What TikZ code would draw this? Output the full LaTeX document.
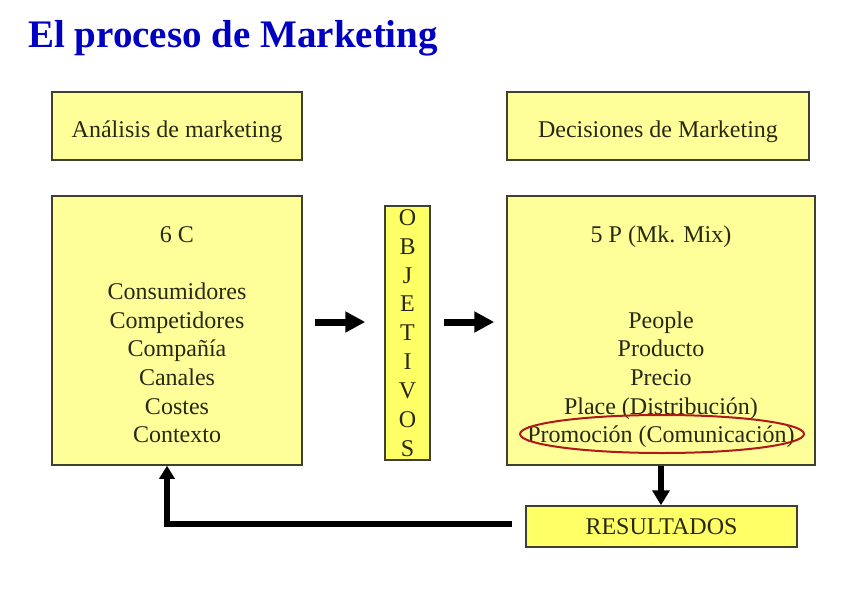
\documentclass[tikz,border=0pt]{standalone}
\usepackage{fontspec}
\setmainfont{Liberation Serif}
\usetikzlibrary{arrows.meta,shapes.geometric,positioning}

\definecolor{paleyel}{RGB}{255,255,153}
\definecolor{strongyel}{RGB}{255,255,102}
\definecolor{boxline}{RGB}{64,64,48}
\definecolor{boxtext}{RGB}{40,40,20}
\definecolor{titleblue}{RGB}{0,0,195}
\definecolor{ringred}{RGB}{175,25,25}

\newcommand{\tophold}{\rule{0pt}{30pt}}
\newcommand{\bothold}{\rule[-6pt]{0pt}{6pt}}

\tikzset{
	box/.style={draw=boxline, line width=1.5pt, fill=paleyel, text=boxtext, align=center,
		font=\fontsize{24}{28.6}\selectfont},
	bigarrow/.style={line width=7pt, -{Triangle[length=20pt,width=20pt]}},
	downarrow/.style={line width=6pt, -{Triangle[length=15pt,width=17pt]}},
	backarrow/.style={line width=6pt, -{Triangle[length=13pt,width=15pt]}}
}

\begin{document}
\begin{tikzpicture}[x=1pt,y=-1pt]
	\useasboundingbox (0,0) rectangle (848,599);
	\node[anchor=base west, text=titleblue, font=\fontsize{39}{44}\selectfont\bfseries, inner sep=0pt] (title) at (28,48) {El proceso de Marketing};
	\node[box, minimum width=250pt, minimum height=68pt] (ana) at (177,126) {\tophold Análisis de marketing\bothold};
	\node[box, minimum width=302pt, minimum height=68pt] (dec) at (658,126) {\tophold Decisiones de Marketing\bothold};
	\node[box, minimum width=250pt, minimum height=269pt] (seis) at (177,330.5) {\tophold 6 C\\[28.6pt]Consumidores\\Competidores\\Compañía\\Canales\\Costes\\Contexto\bothold};
	\node[box, fill=strongyel, minimum width=45pt, minimum height=254pt, inner sep=2pt,
		font=\fontsize{24}{28.9}\selectfont] (obj) at (407.5,333) {O\\B\\J\\E\\T\\I\\V\\O\\S};
	\node[box, minimum width=308pt, minimum height=269pt] (cinco) at (661,330.5) {\tophold 5 P (Mk. Mix)\\[57.2pt]People\\Producto\\Precio\\Place (Distribución)\\Promoción (Comunicación)\bothold};
	\node[box, fill=strongyel, minimum width=271pt, minimum height=41pt] (res) at (661.5,526.5) {RESULTADOS};
	\node[ellipse, draw=ringred, line width=2pt, minimum width=284pt, minimum height=38pt] (ring) at (662,434) {};
	\coordinate (arrowrow) at (0,322);
	\draw[bigarrow, shorten <=12pt, shorten >=19pt] (seis.east |- arrowrow) -- (obj.west |- arrowrow);
	\draw[bigarrow, shorten <=13pt, shorten >=12pt] (obj.east |- arrowrow) -- (cinco.west |- arrowrow);
	\draw[downarrow] (cinco.south) -- (cinco.south |- res.north);
	\draw[backarrow] ([shift={(-13pt,3pt)}]res.west) -| ([xshift=-10pt]seis.south);
\end{tikzpicture}
\end{document}
